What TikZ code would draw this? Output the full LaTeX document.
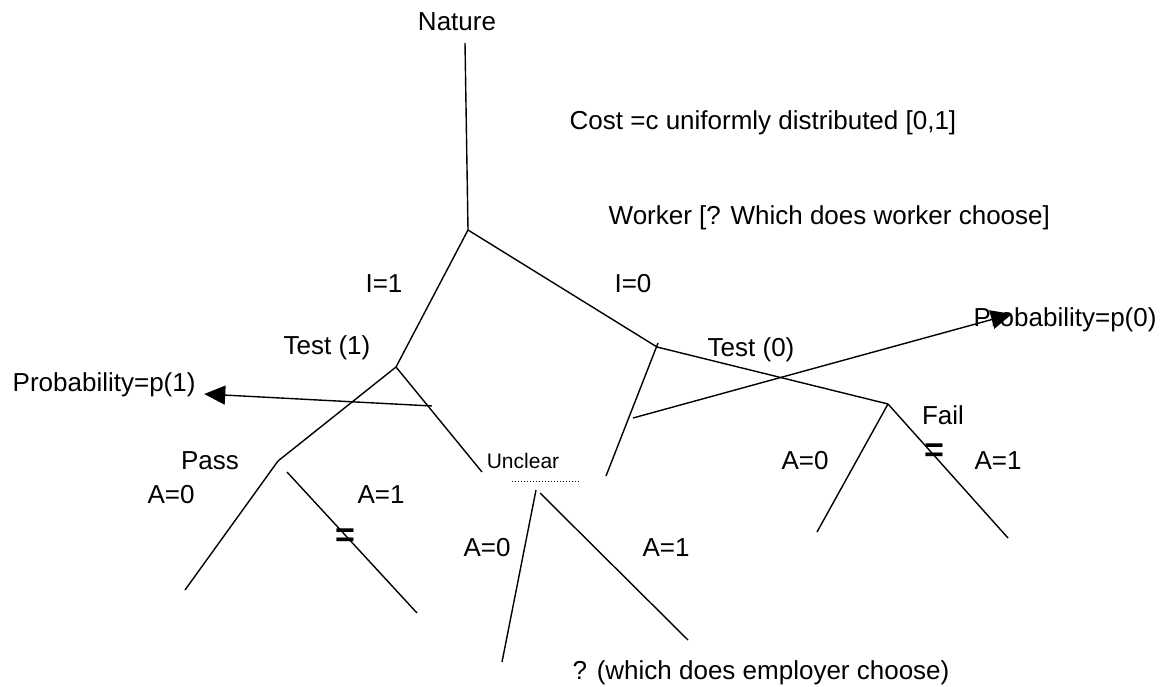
\documentclass[tikz,border=0pt]{standalone}
\usepackage{fontspec}
\setmainfont{Liberation Sans}
\usepackage{tikz}
\usetikzlibrary{arrows.meta}

\begin{document}
\begin{tikzpicture}[x=1pt, y=-1pt, line width=1.4pt,
	every node/.style={inner sep=0pt, font=\fontsize{26}{31}\selectfont},
	small/.style={font=\fontsize{21}{25}\selectfont},
	eqmark/.style={font=\bfseries\fontsize{34}{34}\selectfont},
	probarrow/.style={-{Triangle[length=21pt, width=19pt]}}]

		\useasboundingbox (0,0) rectangle (1166,687);

		% decision points
		\coordinate (top) at (465,43);
		\coordinate (root) at (468,230);
		\coordinate (test1) at (396,367);
		\coordinate (test0) at (657,347);
		\coordinate (pass) at (278,461);
		\coordinate (fail) at (888,404);
		\coordinate (pass0) at (185,590);
		\coordinate (pass1a) at (287,472);
		\coordinate (pass1b) at (417,613);
		\coordinate (unc) at (482,472);
		\coordinate (unc0a) at (536,490);
		\coordinate (unc0b) at (502,662);
		\coordinate (unc1a) at (540,493);
		\coordinate (unc1b) at (688,640);
		\coordinate (t0top) at (658,343);
		\coordinate (t0low) at (606,476);
		\coordinate (fail0) at (817,532);
		\coordinate (fail1) at (1008,538);
		\coordinate (dotl) at (512,481);
		\coordinate (dotr) at (579,481);
		\coordinate (p1start) at (432,406);
		\coordinate (p0start) at (633,418);

		% labels
		\node (nature) at (457,22) {Nature};
		\node (cost) [anchor=west] at (569,123) {Cost =c uniformly distributed [0,1]};
		\node (worker) [anchor=west] at (608,218) {Worker [? Which does worker choose]};
		\node (i1) at (384,284) {I=1};
		\node (i0) at (633,284) {I=0};
		\node (ltest1) at (327,348) {Test (1)};
		\node (ltest0) [anchor=west] at (707,350) {Test (0)};
		\node (prob1) [anchor=west] at (12,385) {Probability=p(1)};
		\node (prob0) [anchor=west] at (973,320) {Probability=p(0)};
		\node (lpass) at (210,461) {Pass};
		\node (lfail) at (943,415) {Fail};
		\node (lunc) [small] at (523,461) {Unclear};
		\node (pa0) at (171,495) {A=0};
		\node (pa1) at (381,495) {A=1};
		\node (ua0) at (487,548) {A=0};
		\node (ua1) at (666,548) {A=1};
		\node (fa0) at (805,461) {A=0};
		\node (fa1) at (998,461) {A=1};
		\node (ask) [anchor=west] at (572,673) {? (which does employer choose)};
		\node (eqpass) [eqmark] at (345,538) {=};
		\node (eqfail) [eqmark] at (934,453) {=};

		% tree
		\draw (top) -- (root);
		\draw (root) -- (test1);
		\draw (root) -- (test0);
		\draw (test1) -- (pass);
		\draw (test1) -- (unc);
		\draw (pass) -- (pass0);
		\draw (pass1a) -- (pass1b);
		\draw (unc0a) -- (unc0b);
		\draw (unc1a) -- (unc1b);
		\draw (t0top) -- (t0low);
		\draw (test0) -- (fail);
		\draw (fail) -- (fail0);
		\draw (fail) -- (fail1);
		\draw[dotted, line width=1pt] (dotl) -- (dotr);

		% probabilities
		\draw[probarrow] (p1start) -- ([xshift=8pt, yshift=-9pt]prob1.east);
		\draw[probarrow] (p0start) -- ([xshift=39pt, yshift=6pt]prob0.west);

	\end{tikzpicture}
\end{document}
